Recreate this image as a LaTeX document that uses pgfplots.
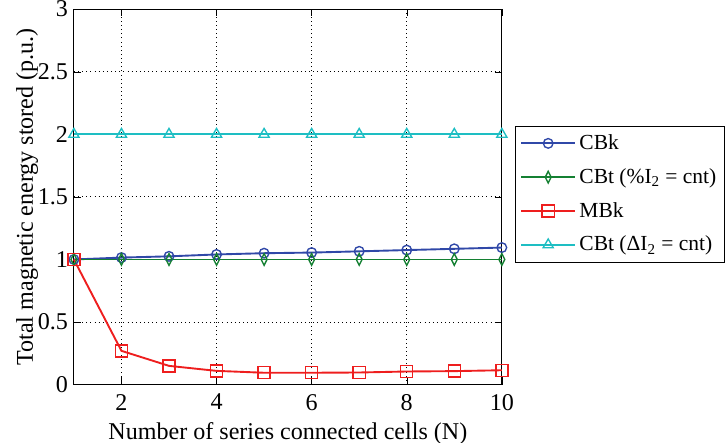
\documentclass[border=0pt]{standalone}
\usepackage{fontspec}
\setmainfont{Liberation Serif}
\usepackage{pgfplots}
\pgfplotsset{compat=1.18}
\definecolor{cbk}{RGB}{48,72,168}
\definecolor{cbt}{RGB}{20,128,50}
\definecolor{mbk}{RGB}{238,30,30}
\definecolor{cbd}{RGB}{30,190,195}
\pgfdeclareplotmark{thindiamond}{%
  \pgfpathmoveto{\pgfqpoint{0pt}{\pgfplotmarksize}}%
  \pgfpathlineto{\pgfqpoint{0.5\pgfplotmarksize}{0pt}}%
  \pgfpathlineto{\pgfqpoint{0pt}{-\pgfplotmarksize}}%
  \pgfpathlineto{\pgfqpoint{-0.5\pgfplotmarksize}{0pt}}%
  \pgfpathclose\pgfusepathqstroke}
\begin{document}
\begin{tikzpicture}
\begin{axis}[
  scale only axis,
  width=249pt, height=218.5pt,
  xmin=1, xmax=10, ymin=0, ymax=3,
  xtick={2,4,6,8,10},
  ytick={0,0.5,1,1.5,2,2.5,3},
  yticklabels={0,0.5,1,1.5,2,2.5,3},
  grid=major,
  major grid style={dotted, black, line width=0.5pt},
  tick align=inside,
  axis line style={black, line width=0.6pt},
  tick style={black},
  /pgf/number format/assume math mode=true,
  xlabel={Number of series connected cells (N)},
  ylabel={Total magnetic energy stored (p.u.)},
  xlabel style={yshift=0pt},
  ylabel style={yshift=-7pt},
  xticklabel style={yshift=-2pt},
  label style={font=\fontsize{14}{16}\selectfont},
  tick label style={font=\fontsize{14}{16}\selectfont},
  legend style={at={(1.03,0.69)}, anchor=north west, draw=black, line width=0.6pt,
    font=\fontsize{12.5}{15}\selectfont, row sep=5.5pt, inner sep=3pt, cells={anchor=west}},
  legend cell align=left,
  legend image code/.code={\draw[mark repeat=2,mark phase=2,#1] plot coordinates {(0cm,0cm) (0.55cm,0cm) (1.1cm,0cm)};},
  every axis plot/.append style={line width=1.1pt},
  clip=false,
]
\addplot[color=cbk, mark=o, mark size=2.8pt, mark options={solid, line width=0.8pt}] coordinates {
(1,1.00) (2,1.015) (3,1.025) (4,1.04) (5,1.05) (6,1.055) (7,1.065) (8,1.075) (9,1.085) (10,1.095)};
\addlegendentry{CBk}
\addplot[color=cbt, mark=thindiamond, mark size=3.4pt, mark options={solid, line width=0.8pt}] coordinates {
(1,1) (2,1) (3,1) (4,1) (5,1) (6,1) (7,1) (8,1) (9,1) (10,1)};
\addlegendentry{CBt (\%I\textsubscript{2} = cnt)}
\addplot[color=mbk, mark=square, mark size=3.5pt, mark options={solid, line width=0.8pt}] coordinates {
(1,1) (2,0.27) (3,0.15) (4,0.11) (5,0.095) (6,0.095) (7,0.097) (8,0.105) (9,0.108) (10,0.115)};
\addlegendentry{MBk}
\addplot[color=cbd, mark=triangle, mark size=3.4pt, mark options={solid, line width=0.8pt}] coordinates {
(1,2) (2,2) (3,2) (4,2) (5,2) (6,2) (7,2) (8,2) (9,2) (10,2)};
\addlegendentry{CBt (ΔI\textsubscript{2} = cnt)}
\end{axis}
\pgfresetboundingbox
\path (-43pt,-33.5pt) rectangle (380pt,223.8pt);
\end{tikzpicture}
\end{document}
